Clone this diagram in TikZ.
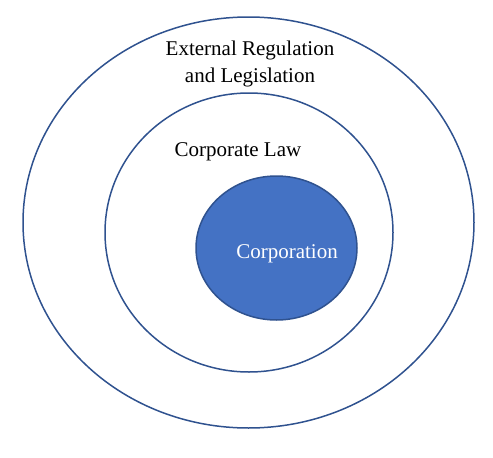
\documentclass[tikz,border=0pt]{standalone}
\usepackage{fontspec}
\setmainfont{Liberation Serif}
\usetikzlibrary{shapes.geometric}
\definecolor{ringblue}{HTML}{2F528F}
\definecolor{corpblue}{HTML}{4472C4}

\begin{document}
\begin{tikzpicture}[x=1pt, y=-1pt,
    ring/.style={ellipse, draw=ringblue, line width=1.5pt, inner sep=0pt},
    lbl/.style={font=\fontsize{21}{27}\selectfont, align=center}]
    \useasboundingbox (0,0) rectangle (493,458);
    \node[ring, minimum width=451pt, minimum height=411pt] (regulation) at (248.5,222.5) {};
    \node[ring, minimum width=288pt, minimum height=279pt] (law) at (249,232.5) {};
    \node[ring, fill=corpblue, minimum width=161pt, minimum height=144pt] (corp) at (276.5,248) {};

    \node[lbl] (regtext) at (250,64) {External Regulation\\and Legislation};
    \node[lbl] (lawtext) at (238,151.5) {Corporate Law};
    \node[lbl, text=white] (corptext) at (287,254) {Corporation};
  \end{tikzpicture}
\end{document}
